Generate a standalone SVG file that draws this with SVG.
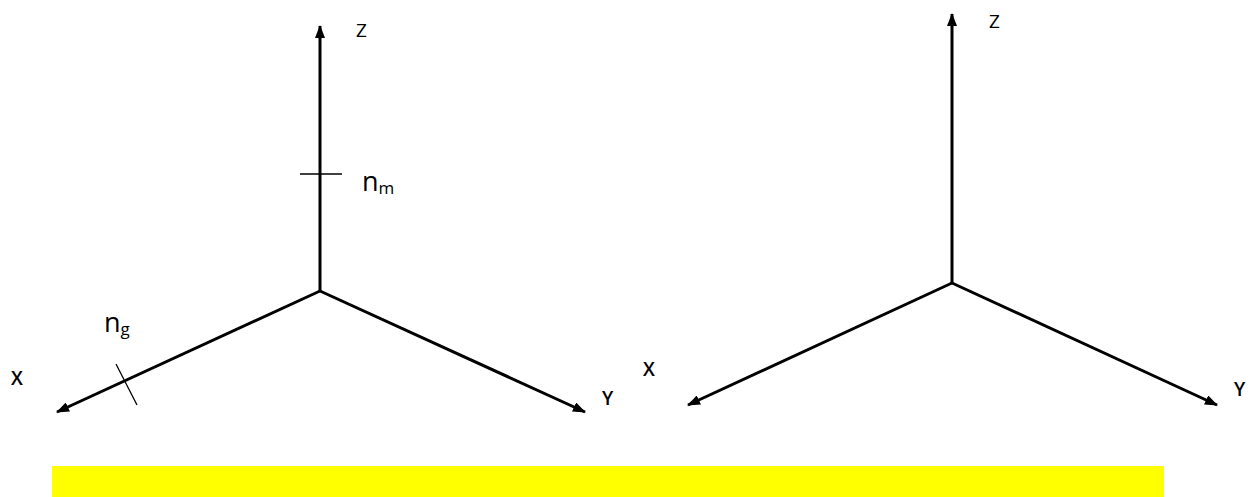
<svg xmlns="http://www.w3.org/2000/svg" width="1256" height="497" viewBox="0 0 1256 497">
<style>
.axis{stroke:#000;stroke-width:3;fill:none}
.tick{stroke:#000;stroke-width:1.3;fill:none}
.lbl{font-family:"Open Sans","Liberation Sans",sans-serif;font-size:19px;fill:#000;font-weight:600}
.n{font-family:"Open Sans","Liberation Sans",sans-serif;font-size:27px;fill:#000}
.sub{font-size:17px}
</style>
<defs>
<marker id="ah" markerWidth="13" markerHeight="10" refX="12" refY="5" orient="auto" markerUnits="userSpaceOnUse">
<path d="M0,0 L13,5 L0,10 Z" fill="#000"/>
</marker>
</defs>
<rect width="1256" height="497" fill="#fff"/>
<g id="connectors">
<line class="axis" x1="320" y1="291" x2="320" y2="26" marker-end="url(#ah)"/>
<line class="axis" x1="320" y1="291" x2="57" y2="412" marker-end="url(#ah)"/>
<line class="axis" x1="320" y1="291" x2="585" y2="412" marker-end="url(#ah)"/>
<line class="axis" x1="952" y1="283" x2="952" y2="14" marker-end="url(#ah)"/>
<line class="axis" x1="952" y1="283" x2="688" y2="405" marker-end="url(#ah)"/>
<line class="axis" x1="952" y1="283" x2="1217" y2="405" marker-end="url(#ah)"/>
<line class="tick" x1="300" y1="174" x2="342" y2="174"/>
<line class="tick" x1="116" y1="364" x2="137" y2="405"/>
</g>
<g id="left-labels">
<text class="lbl" x="356" y="37" style="font-weight:400">Z</text>
<text class="lbl" x="11" y="385">X</text>
<text class="lbl" x="602" y="405">Y</text>
<text class="n" x="362" y="191">n<tspan class="sub" dy="3">m</tspan></text>
<text class="n" x="104" y="332">n<tspan class="sub" dy="3">g</tspan></text>
</g>
<g id="right-labels">
<text class="lbl" x="989" y="28" style="font-weight:400">Z</text>
<text class="lbl" x="643" y="376">X</text>
<text class="lbl" x="1234" y="396">Y</text>
</g>
<rect id="bar" x="52" y="466" width="1112" height="31" fill="#ffff00"/>
</svg>
